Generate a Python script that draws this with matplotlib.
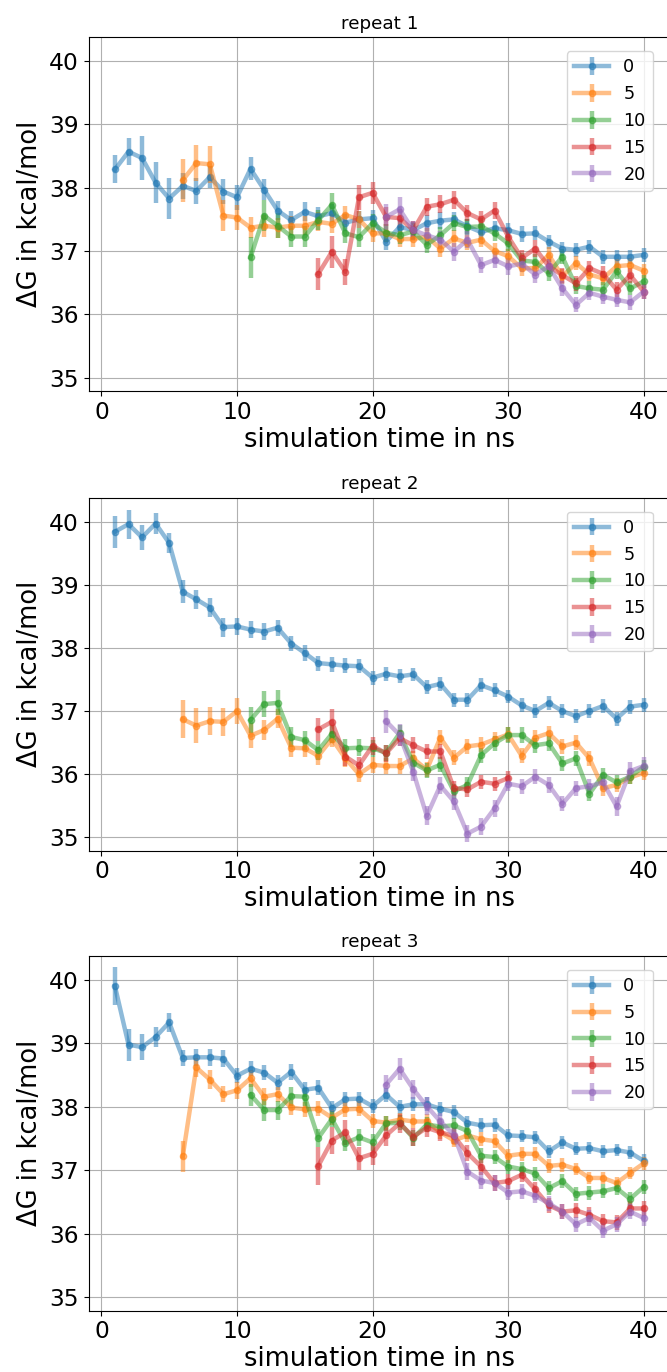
import numpy as np
import matplotlib
matplotlib.use('Agg')
import matplotlib.pyplot as plt

# Free energy estimates (kcal/mol) per ns, one list per discarded-equilibration offset
offsets = [0, 5, 10, 15, 20]

# repeat 1
r1_0 = [38.29, 38.57, 38.47, 38.08, 37.83, 38.03, 37.95, 38.17, 37.94, 37.85,
        38.30, 37.97, 37.64, 37.49, 37.62, 37.55, 37.60, 37.45, 37.50, 37.52,
        37.15, 37.38, 37.33, 37.44, 37.48, 37.50, 37.39, 37.30, 37.36, 37.33,
        37.27, 37.28, 37.15, 37.04, 37.02, 37.07, 36.91, 36.91, 36.91, 36.94]
r1_5 = [38.12, 38.39, 38.37, 37.56, 37.53, 37.37, 37.40, 37.37, 37.40, 37.40,
        37.46, 37.43, 37.57, 37.50, 37.28, 37.28, 37.19, 37.19, 37.23, 37.04,
        37.20, 37.13, 37.18, 37.00, 36.92, 36.73, 36.73, 36.94, 36.60, 36.81,
        36.63, 36.57, 36.76, 36.78, 36.69]
r1_10 = [36.90, 37.56, 37.40, 37.23, 37.23, 37.49, 37.73, 37.28, 37.22, 37.44,
         37.29, 37.25, 37.31, 37.10, 37.25, 37.44, 37.38, 37.39, 37.28, 37.12,
         36.85, 36.83, 36.65, 36.91, 36.45, 36.41, 36.39, 36.68, 36.41, 36.52]
r1_15 = [36.64, 36.99, 36.67, 37.85, 37.92, 37.54, 37.52, 37.33, 37.70, 37.74,
         37.81, 37.60, 37.50, 37.64, 37.23, 36.89, 37.04, 36.76, 36.62, 36.49,
         36.73, 36.64, 36.39, 36.62, 36.36]
r1_20 = [37.54, 37.66, 37.33, 37.25, 37.18, 36.99, 37.18, 36.78, 36.86, 36.76,
         36.80, 36.63, 36.76, 36.41, 36.15, 36.34, 36.28, 36.23, 36.19, 36.36]

r1_0_err = [.22, .21, .34, .32, .33, .20, .20, .17, .20, .20, .18, .17, .15, .15,
            .15, .14, .14, .14, .14, .13, .14, .13, .13, .13, .13, .12, .12, .12,
            .12, .12, .12, .11, .11, .11, .11, .11, .11, .11, .11, .11]
r1_5_err = [.34, .29, .29, .25, .20, .17, .17, .16, .15, .15, .15, .15, .14, .14,
            .14, .14, .13, .13, .13, .13, .13, .12, .12, .12, .12, .12, .12, .12,
            .12, .11, .11, .11, .11, .11, .11]
r1_10_err = [.33, .25, .20, .17, .16, .16, .18, .15, .15, .14, .14, .14, .13, .13,
             .13, .13, .13, .13, .12, .12, .12, .12, .12, .12, .12, .12, .12, .12,
             .11, .11]
r1_15_err = [.25, .25, .20, .20, .17, .15, .15, .14, .14, .14, .14, .13, .13, .13,
             .13, .13, .13, .12, .12, .12, .12, .12, .12, .12, .12]
r1_20_err = [.20, .20, .15, .14, .14, .14, .13, .13, .13, .13, .13, .13, .12, .12,
             .12, .12, .12, .12, .12, .12]

# repeat 2
r2_0 = [39.84, 39.96, 39.75, 39.97, 39.66, 38.89, 38.77, 38.64, 38.33, 38.34,
        38.29, 38.26, 38.32, 38.07, 37.92, 37.76, 37.74, 37.72, 37.71, 37.53,
        37.59, 37.55, 37.58, 37.38, 37.43, 37.18, 37.18, 37.41, 37.33, 37.23,
        37.09, 37.00, 37.13, 37.00, 36.92, 37.00, 37.08, 36.88, 37.07, 37.10]
r2_5 = [36.87, 36.77, 36.84, 36.83, 37.00, 36.61, 36.70, 36.88, 36.42, 36.41,
        36.29, 36.56, 36.25, 36.00, 36.15, 36.13, 36.13, 36.25, 36.07, 36.58,
        36.26, 36.44, 36.47, 36.55, 36.63, 36.29, 36.58, 36.65, 36.44, 36.50,
        36.25, 35.78, 35.83, 35.95, 36.02]
r2_10 = [36.86, 37.11, 37.13, 36.59, 36.54, 36.38, 36.64, 36.41, 36.42, 36.41,
         36.34, 36.65, 36.18, 36.06, 36.15, 35.73, 35.83, 36.30, 36.49, 36.62,
         36.62, 36.46, 36.49, 36.17, 36.25, 35.69, 35.99, 35.87, 35.96, 36.12]
r2_15 = [36.71, 36.83, 36.28, 36.14, 36.45, 36.33, 36.57, 36.46, 36.36, 36.36,
         35.78, 35.76, 35.88, 35.85, 35.94]
r2_20 = [36.84, 36.62, 36.04, 35.34, 35.82, 35.57, 35.06, 35.17, 35.46, 35.85,
         35.81, 35.96, 35.83, 35.53, 35.78, 35.81, 35.87, 35.49, 36.05, 36.13]

r2_0_err = [.25, .23, .20, .17, .16, .18, .15, .15, .15, .13, .13, .13, .13, .12,
            .12, .12, .12, .12, .11, .11, .11, .11, .11, .11, .11, .11, .11, .11,
            .11, .11, .11, .11, .11, .11, .11, .11, .11, .11, .11, .11]
r2_5_err = [.30, .28, .22, .22, .20, .20, .16, .15, .14, .14, .14, .13, .13, .13,
            .13, .13, .12, .12, .12, .12, .12, .12, .12, .12, .12, .12, .12, .12,
            .12, .12, .12, .12, .11, .11, .11]
r2_10_err = [.20, .20, .20, .16, .15, .15, .14, .14, .13, .13, .13, .13, .12, .12,
             .12, .12, .12, .12, .12, .12, .12, .12, .12, .12, .12, .12, .11, .11,
             .11, .11]
r2_15_err = [.18, .20, .15, .14, .14, .13, .13, .13, .12, .12, .12, .12, .11, .11,
             .11]
r2_20_err = [.18, .17, .15, .15, .14, .14, .13, .13, .13, .12, .12, .12, .12, .12,
             .12, .12, .12, .15, .15, .15]

# repeat 3
r3_0 = [39.90, 38.98, 38.94, 39.10, 39.33, 38.77, 38.78, 38.78, 38.76, 38.49,
        38.60, 38.54, 38.38, 38.55, 38.27, 38.30, 37.98, 38.12, 38.13, 38.01,
        38.19, 38.00, 38.04, 38.04, 37.97, 37.92, 37.75, 37.71, 37.72, 37.55,
        37.54, 37.52, 37.30, 37.44, 37.34, 37.35, 37.30, 37.32, 37.28, 37.15]
r3_5 = [37.22, 38.62, 38.43, 38.20, 38.26, 38.45, 38.16, 38.20, 37.99, 37.96,
        37.97, 37.83, 37.96, 37.97, 37.78, 37.75, 37.80, 37.77, 37.77, 37.60,
        37.47, 37.55, 37.49, 37.46, 37.23, 37.26, 37.26, 37.07, 37.09, 37.02,
        36.88, 36.88, 36.80, 36.96, 37.11]
r3_10 = [38.19, 37.95, 37.95, 38.17, 38.16, 37.51, 37.81, 37.43, 37.52, 37.44,
         37.74, 37.75, 37.51, 37.72, 37.69, 37.71, 37.62, 37.23, 37.21, 37.06,
         37.02, 36.95, 36.72, 36.83, 36.63, 36.65, 36.67, 36.72, 36.55, 36.74]
r3_15 = [37.07, 37.47, 37.60, 37.19, 37.26, 37.55, 37.74, 37.53, 37.67, 37.60,
         37.54, 37.27, 37.06, 36.80, 36.83, 36.93, 36.70, 36.45, 36.35, 36.37,
         36.30, 36.20, 36.18, 36.40, 36.40]
r3_20 = [38.35, 38.60, 38.28, 38.01, 37.77, 37.56, 36.98, 36.84, 36.80, 36.65,
         36.67, 36.60, 36.48, 36.35, 36.15, 36.25, 36.05, 36.15, 36.35, 36.25]

r3_0_err = [.30, .25, .20, .15, .15, .13, .13, .13, .13, .12, .12, .12, .12, .12,
            .12, .12, .12, .11, .11, .11, .11, .11, .11, .11, .11, .11, .11, .11,
            .11, .10, .10, .10, .10, .10, .10, .10, .10, .10, .10, .10]
r3_5_err = [.25, .15, .15, .13, .13, .13, .13, .12, .12, .12, .12, .12, .12, .12,
            .11, .11, .11, .11, .11, .11, .11, .11, .11, .11, .11, .11, .11, .11,
            .11, .10, .10, .10, .10, .10, .10]
r3_10_err = [.17, .17, .15, .15, .14, .14, .13, .13, .13, .13, .12, .12, .12, .12,
             .12, .12, .12, .12, .11, .11, .11, .11, .11, .11, .11, .11, .11, .11,
             .11, .11]
r3_15_err = [.30, .22, .20, .18, .17, .16, .15, .14, .14, .14, .13, .13, .13, .13,
             .12, .12, .12, .12, .12, .12, .12, .12, .12, .12, .12]
r3_20_err = [.15, .17, .15, .14, .14, .13, .13, .13, .13, .12, .12, .12, .12, .12,
             .12, .12, .12, .12, .12, .12]

repeats = [
    ('repeat 1', [r1_0, r1_5, r1_10, r1_15, r1_20],
     [r1_0_err, r1_5_err, r1_10_err, r1_15_err, r1_20_err]),
    ('repeat 2', [r2_0, r2_5, r2_10, r2_15, r2_20],
     [r2_0_err, r2_5_err, r2_10_err, r2_15_err, r2_20_err]),
    ('repeat 3', [r3_0, r3_5, r3_10, r3_15, r3_20],
     [r3_0_err, r3_5_err, r3_10_err, r3_15_err, r3_20_err]),
]

fig = plt.figure(figsize=(6.67, 13.72), dpi=100)

# axes boxes in figure fractions (the right edge runs slightly past the canvas)
boxes = [[0.1327, 0.7150, 0.872, 0.2580],
         [0.1327, 0.3800, 0.872, 0.2573],
         [0.1327, 0.0447, 0.872, 0.2587]]

for box, (title, series, errs) in zip(boxes, repeats):
    ax = fig.add_axes(box)
    for off, vals, err in zip(offsets, series, errs):
        t = np.arange(off + 1, off + 1 + len(vals))
        ax.errorbar(t, vals, yerr=err, marker='o', markersize=4.5, lw=3.2,
                    alpha=0.5, label=str(off))
    ax.set_xlim(-0.95, 41.95)
    ax.set_ylim(34.79, 40.38)
    ax.set_xticks([0, 10, 20, 30, 40])
    ax.set_yticks([35, 36, 37, 38, 39, 40])
    ax.grid(True, color='#b0b0b0', lw=0.8)
    ax.tick_params(labelsize=16.8)
    ax.set_xlabel('simulation time in ns', fontsize=18.5, labelpad=2)
    ax.set_ylabel('\u0394G in kcal/mol', fontsize=18.5)
    ax.set_title(title, fontsize=13.2)
    ax.legend(loc='upper right', fontsize=12.7, bbox_to_anchor=(0.985, 0.985))

fig.savefig('out.png', dpi=100)
